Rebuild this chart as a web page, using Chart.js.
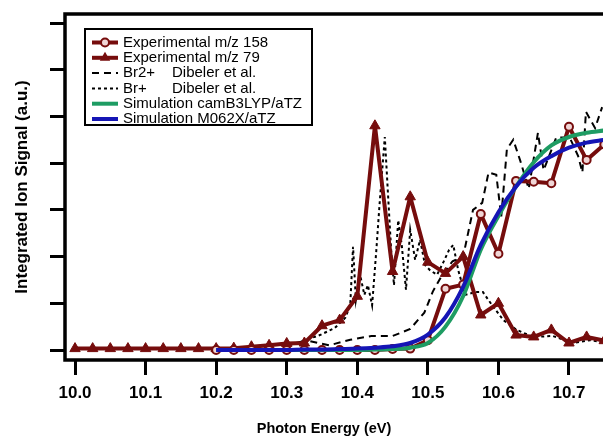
<!DOCTYPE html>
<html><head><meta charset="utf-8">
<script src="https://cdn.jsdelivr.net/npm/chart.js@4/dist/chart.umd.min.js"></script>
<style>html,body{margin:0;padding:0;background:#fff;overflow:hidden}#wrap{width:603px;height:438px;position:relative}</style>
</head><body><div id="wrap"><canvas id="c" width="603" height="438"></canvas></div>
<script>
// ---- data ----
const xTickValues = [10.0, 10.1, 10.2, 10.3, 10.4, 10.5, 10.6, 10.7];
const yTickValues = [0, 1, 2, 3, 4, 5, 6, 7];
const xTitle = 'Photon Energy (eV)';
const yTitle = 'Integrated Ion Signal (a.u.)';

const mz158X = [10.200,10.225,10.250,10.275,10.300,10.325,10.350,10.375,10.400,10.425,10.450,10.475,10.500,10.525,10.550,10.575,10.600,10.625,10.650,10.675,10.700,10.725,10.750];
const mz158Y = [0,0,0,0,0,0,0,0,0,0,0.02,0.03,0.21,1.31,1.4,2.91,2.06,3.62,3.6,3.57,4.78,4.07,4.4];

const mz79X = [10.000,10.025,10.050,10.075,10.100,10.125,10.150,10.175,10.200,10.225,10.250,10.275,10.300,10.325,10.350,10.375,10.400,10.425,10.450,10.475,10.500,10.525,10.550,10.575,10.600,10.625,10.650,10.675,10.700,10.725,10.750];
const mz79Y = [0.03,0.03,0.03,0.03,0.03,0.03,0.03,0.03,0.03,0.04,0.07,0.1,0.14,0.15,0.52,0.64,1.15,4.8,1.68,3.28,1.88,1.64,2.0,0.75,1.0,0.32,0.28,0.43,0.15,0.28,0.2];

const br2X = [10.30,10.33,10.36,10.39,10.42,10.45,10.475,10.495,10.507,10.52,10.535,10.55,10.564,10.577,10.586,10.597,10.604,10.612,10.621,10.631,10.643,10.656,10.664,10.682,10.701,10.713,10.719,10.724,10.737,10.747];
const br2Y = [0.12,0.2,0.1,0.22,0.3,0.3,0.45,0.8,1.25,1.6,1.9,2.0,3.0,3.15,3.8,3.75,2.85,4.3,4.5,4.05,3.45,4.65,3.85,4.55,4.55,4.15,3.8,5.1,4.75,5.2];

const brX = [10.305,10.326,10.347,10.368,10.383,10.390,10.394,10.398,10.404,10.410,10.415,10.421,10.427,10.432,10.439,10.444,10.448,10.452,10.458,10.463,10.469,10.475,10.482,10.489,10.496,10.503,10.513,10.522,10.530,10.536,10.543,10.553,10.567,10.578,10.591,10.607,10.626,10.649,10.677,10.706,10.730,10.748];
const brY = [0.11,0.21,0.32,0.47,0.69,0.96,2.21,1.07,1.61,1.18,1.39,0.96,2.14,3.21,4.56,3.21,2.14,1.39,2.78,2.25,1.29,2.57,1.93,2.36,1.82,1.71,1.61,1.88,2.14,2.25,1.71,1.18,1.24,1.24,0.96,0.64,0.43,0.28,0.30,0.15,0.21,0.17];

const simX = [10.200,10.225,10.250,10.275,10.300,10.325,10.350,10.375,10.400,10.425,10.450,10.475,10.500,10.525,10.550,10.575,10.600,10.625,10.650,10.675,10.700,10.725,10.750];
const camY = [0,0,0,0,0,0,0,0,0,0.01,0.02,0.05,0.15,0.5,1.15,2.15,2.87,3.5,4.02,4.38,4.56,4.65,4.7];
const m06Y = [0,0,0,0,0,0.01,0.01,0.02,0.03,0.05,0.08,0.15,0.33,0.7,1.35,2.25,2.95,3.5,3.9,4.15,4.33,4.44,4.5];

const labels = ['Experimental m/z 158','Experimental m/z 79','Br2+\tDibeler et al.','Br+\tDibeler et al.','Simulation camB3LYP/aTZ','Simulation M062X/aTZ'];

// ---- styling ----
const FONT = '"Liberation Sans", Arial, Helvetica, sans-serif';
const maroon = '#760d0d';
const xy = (xs, ys) => xs.map((x, i) => ({x, y: ys[i]}));

const framePlugin = {
  id: 'frameLegend',
  afterDatasetsDraw(chart) {
    const {ctx, chartArea: a} = chart;
    ctx.save();
    ctx.strokeStyle = '#000'; ctx.lineWidth = 3.5; ctx.lineCap = 'square'; ctx.setLineDash([]);
    ctx.beginPath();
    ctx.moveTo(chart.width + 5, a.top); ctx.lineTo(a.left, a.top);
    ctx.lineTo(a.left, a.bottom); ctx.lineTo(chart.width + 5, a.bottom);
    ctx.stroke();
    ctx.restore();
  },
  afterDraw(chart) {
    const ctx = chart.ctx;
    ctx.save();
    // x-axis title
    ctx.fillStyle = '#000';
    ctx.font = 'bold 14.5px ' + FONT;
    ctx.textAlign = 'center'; ctx.textBaseline = 'alphabetic';
    ctx.fillText(xTitle, 324, 433);
    // legend box
    const L = 85, T = 29, R = 312, B = 125;
    ctx.fillStyle = '#fff';
    ctx.fillRect(L, T, R - L, B - T);
    ctx.strokeStyle = '#000'; ctx.lineWidth = 2; ctx.setLineDash([]);
    ctx.strokeRect(L, T, R - L, B - T);
    ctx.font = '15px ' + FONT;
    ctx.textAlign = 'left'; ctx.textBaseline = 'middle';
    chart.data.datasets.forEach((ds, i) => {
      const y = 42.5 + i * 15.3;
      ctx.save();
      ctx.strokeStyle = ds.borderColor; ctx.lineWidth = ds.borderWidth;
      ctx.setLineDash(ds.borderDash || []);
      ctx.lineCap = 'butt';
      ctx.beginPath(); ctx.moveTo(92, y); ctx.lineTo(118, y); ctx.stroke();
      ctx.setLineDash([]);
      if (ds.pointStyle === 'circle') {
        ctx.beginPath(); ctx.arc(105, y, ds.pointRadius, 0, Math.PI * 2);
        ctx.fillStyle = ds.pointBackgroundColor; ctx.fill();
        ctx.lineWidth = ds.pointBorderWidth; ctx.strokeStyle = ds.pointBorderColor; ctx.stroke();
      } else if (ds.pointStyle === 'triangle') {
        const r = ds.pointRadius;
        ctx.beginPath();
        for (let k = 0; k < 3; k++) {
          const ang = k * 2 * Math.PI / 3;
          const px = 105 + Math.sin(ang) * r, py = y - Math.cos(ang) * r;
          k ? ctx.lineTo(px, py) : ctx.moveTo(px, py);
        }
        ctx.closePath(); ctx.fillStyle = ds.pointBackgroundColor; ctx.fill();
      }
      ctx.restore();
      ctx.fillStyle = '#000';
      const parts = ds.label.split('\t');
      ctx.fillText(parts[0], 123, y);
      if (parts[1]) ctx.fillText(parts[1], 172, y);
    });
    ctx.restore();
  }
};

const gridOpts = {display: true, drawOnChartArea: false, drawTicks: true, tickLength: 15, lineWidth: 3, color: '#000'};

new Chart(document.getElementById('c'), {
  type: 'line',
  data: {
    datasets: [
      {label: labels[0], data: xy(mz158X, mz158Y), borderColor: maroon, borderWidth: 4, borderJoinStyle: 'round', pointStyle: 'circle', pointRadius: 4, pointBorderWidth: 2, pointBackgroundColor: '#f0d6d6', pointBorderColor: maroon, order: 2},
      {label: labels[1], data: xy(mz79X, mz79Y), borderColor: maroon, borderWidth: 4, borderJoinStyle: 'round', pointStyle: 'triangle', pointRadius: 6, pointBorderWidth: 1, pointBackgroundColor: maroon, pointBorderColor: maroon, order: 3},
      {label: labels[2], data: xy(br2X, br2Y), borderColor: '#000', borderWidth: 2, borderDash: [7, 5], pointRadius: 0, order: 4},
      {label: labels[3], data: xy(brX, brY), borderColor: '#000', borderWidth: 2, borderDash: [3, 3], pointRadius: 0, order: 5},
      {label: labels[4], data: xy(simX, camY), borderColor: '#1e9c63', borderWidth: 4, pointRadius: 0, cubicInterpolationMode: 'monotone', order: 1},
      {label: labels[5], data: xy(simX, m06Y), borderColor: '#1515b5', borderWidth: 4, pointRadius: 0, cubicInterpolationMode: 'monotone', order: 0}
    ]
  },
  options: {
    responsive: false, animation: false, devicePixelRatio: 1,
    layout: {padding: {top: 14, left: 0, right: 0, bottom: 0}, autoPadding: false},
    plugins: {legend: {display: false}, tooltip: {enabled: false}},
    elements: {line: {tension: 0}},
    scales: {
      x: {
        type: 'linear', min: 9.9858, max: 10.7482,
        afterBuildTicks: s => { s.ticks = xTickValues.map(v => ({value: v})); },
        afterFit: s => { s.height = 78; },
        border: {display: false},
        grid: gridOpts,
        ticks: {color: '#000', font: {family: FONT, size: 17, weight: 'bold'}, padding: 8, maxRotation: 0, autoSkip: false, callback: v => Number(v).toFixed(1)}
      },
      y: {
        type: 'linear', min: -0.214, max: 7.193,
        afterBuildTicks: s => { s.ticks = yTickValues.map(v => ({value: v})); },
        afterFit: s => { s.width = 65; },
        border: {display: false},
        grid: gridOpts,
        ticks: {display: false},
        title: {display: true, text: yTitle, color: '#000', font: {family: FONT, size: 17, weight: 'bold'}, padding: {top: 12, bottom: 0}}
      }
    }
  },
  plugins: [framePlugin]
});
</script>
</body></html>
